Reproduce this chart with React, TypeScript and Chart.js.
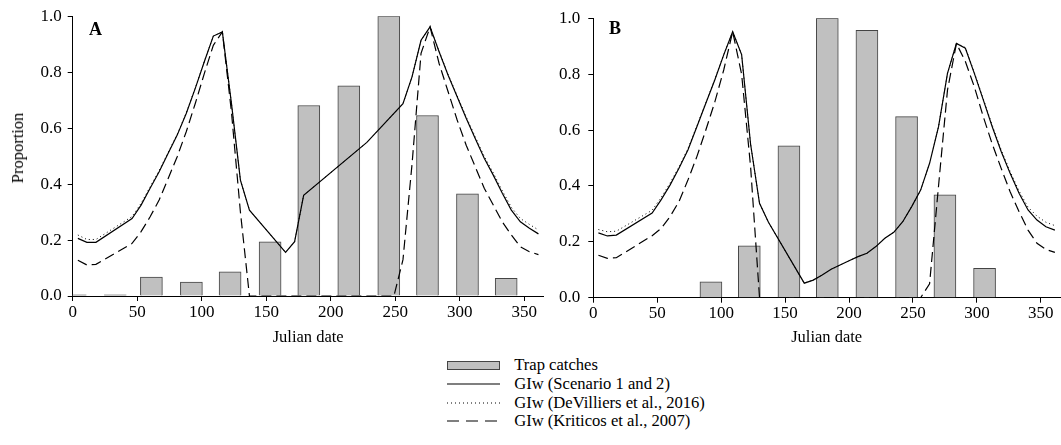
import React, { useEffect, useRef } from 'react';
import { Chart, registerables } from 'chart.js';

Chart.register(...registerables);

// Trap catches: one bar per month, centred on the start of the month (Julian day)
const monthDays = [2, 33, 61, 92, 122, 153, 183, 214, 245, 275, 306, 336];
const trapCatchesA = [0.004, 0.004, 0.068, 0.05, 0.086, 0.194, 0.681, 0.751, 1.0, 0.645, 0.365, 0.063];
const trapCatchesB = [0, 0, 0, 0.057, 0.186, 0.544, 1.0, 0.957, 0.648, 0.368, 0.105, 0];

// Weekly growth index (GIw), panel A
const scenarioDaysA = [4, 11, 18, 46, 53, 60, 67, 74, 81, 88, 95, 102, 109, 116, 123, 130, 137, 165, 172, 179, 228, 256, 263, 270, 277, 284, 291, 298, 305, 312, 319, 326, 333, 340, 347, 354, 361];
const scenarioA = [0.206, 0.192, 0.192, 0.277, 0.325, 0.385, 0.444, 0.51, 0.575, 0.652, 0.742, 0.837, 0.929, 0.944, 0.69, 0.414, 0.307, 0.156, 0.194, 0.36, 0.549, 0.687, 0.783, 0.914, 0.962, 0.873, 0.789, 0.712, 0.635, 0.563, 0.492, 0.432, 0.367, 0.307, 0.265, 0.242, 0.222];
const deVilliersA = [0.218, 0.202, 0.202, 0.284, 0.331, 0.39, 0.448, 0.513, 0.578, 0.654, 0.744, 0.838, 0.929, 0.944, 0.69, 0.414, 0.307, 0.156, 0.194, 0.36, 0.549, 0.687, 0.783, 0.914, 0.962, 0.875, 0.792, 0.716, 0.64, 0.569, 0.499, 0.44, 0.376, 0.317, 0.277, 0.256, 0.236];
const kriticosDaysA = [4, 11, 18, 46, 53, 60, 67, 74, 81, 88, 95, 102, 109, 116, 123, 130, 137, 249, 256, 263, 270, 277, 284, 291, 298, 305, 312, 319, 326, 333, 340, 347, 354, 361];
const kriticosA = [0.128, 0.111, 0.113, 0.188, 0.23, 0.283, 0.343, 0.42, 0.498, 0.587, 0.688, 0.795, 0.896, 0.944, 0.66, 0.3, 0, 0, 0.13, 0.47, 0.867, 0.962, 0.831, 0.73, 0.629, 0.539, 0.462, 0.385, 0.325, 0.265, 0.218, 0.176, 0.158, 0.148];

// Weekly growth index (GIw), panel B
const scenarioDaysB = [4, 11, 18, 46, 53, 60, 67, 74, 81, 88, 95, 102, 109, 116, 123, 130, 137, 165, 172, 179, 186, 193, 200, 207, 214, 221, 228, 235, 242, 249, 256, 263, 270, 277, 284, 291, 298, 305, 312, 319, 326, 333, 340, 347, 354, 361];
const scenarioB = [0.232, 0.221, 0.224, 0.303, 0.35, 0.403, 0.463, 0.529, 0.612, 0.696, 0.779, 0.869, 0.952, 0.87, 0.55, 0.338, 0.27, 0.052, 0.063, 0.081, 0.102, 0.117, 0.132, 0.147, 0.159, 0.183, 0.213, 0.234, 0.272, 0.326, 0.385, 0.481, 0.612, 0.803, 0.91, 0.893, 0.803, 0.708, 0.612, 0.523, 0.445, 0.374, 0.314, 0.278, 0.254, 0.242];
const deVilliersB = [0.244, 0.236, 0.238, 0.313, 0.358, 0.41, 0.468, 0.533, 0.615, 0.698, 0.781, 0.87, 0.952, 0.87, 0.55, 0.338, 0.27, 0.052, 0.063, 0.081, 0.102, 0.117, 0.132, 0.147, 0.159, 0.183, 0.213, 0.234, 0.272, 0.326, 0.385, 0.481, 0.612, 0.803, 0.91, 0.895, 0.806, 0.712, 0.617, 0.529, 0.452, 0.382, 0.324, 0.292, 0.27, 0.258];
const kriticosDaysB = [4, 11, 18, 46, 53, 60, 67, 74, 81, 88, 95, 102, 109, 116, 123, 130, 256, 263, 270, 277, 284, 291, 298, 305, 312, 319, 326, 333, 340, 347, 354, 361];
const kriticosB = [0.152, 0.141, 0.143, 0.222, 0.248, 0.29, 0.344, 0.421, 0.505, 0.6, 0.7, 0.815, 0.952, 0.8, 0.47, 0, 0, 0.05, 0.4, 0.743, 0.91, 0.845, 0.755, 0.648, 0.55, 0.463, 0.379, 0.308, 0.242, 0.195, 0.173, 0.162];

// Axis ticks
const dayTicks = [0, 50, 100, 150, 200, 250, 300, 350];
const proportionTicks = [0, 0.2, 0.4, 0.6, 0.8, 1.0];

const legendItems = [
  'Trap catches',
  'GIw (Scenario 1 and 2)',
  'GIw (DeVilliers et al., 2016)',
  'GIw (Kriticos et al., 2007)',
];

const FONT = "'Liberation Serif', 'Times New Roman', Times, serif";
const BAR_FILL = '#c0c0c0';
const BAR_EDGE = '#444444';

const pairs = (xs: number[], ys: number[]) => xs.map((x, i) => ({ x, y: ys[i] }));

interface PanelSpec {
  catches: number[];
  scenarioDays: number[];
  scenario: number[];
  deVilliers: number[];
  kriticosDays: number[];
  kriticos: number[];
  axisWidth: number;
  axisHeight: number;
  padTop: number;
  padRight: number;
  labelGap: number;
}

function buildConfig(p: PanelSpec): any {
  const tickFont = { family: FONT, size: 17 };
  const titleFont = { family: FONT, size: 16.5 };
  return {
    type: 'bar',
    data: {
      datasets: [
        {
          type: 'line',
          data: pairs(p.scenarioDays, p.deVilliers),
          borderColor: '#000',
          borderWidth: 1,
          borderDash: [1, 3],
          pointRadius: 0,
          tension: 0,
          order: 3,
        },
        {
          type: 'line',
          data: pairs(p.kriticosDays, p.kriticos),
          borderColor: '#000',
          borderWidth: 1.2,
          borderDash: [10, 5],
          pointRadius: 0,
          tension: 0,
          order: 2,
        },
        {
          type: 'line',
          data: pairs(p.scenarioDays, p.scenario),
          borderColor: '#000',
          borderWidth: 1.2,
          pointRadius: 0,
          tension: 0,
          order: 1,
        },
        {
          type: 'bar',
          data: pairs(monthDays, p.catches),
          backgroundColor: BAR_FILL,
          borderColor: BAR_EDGE,
          borderWidth: 1,
          borderSkipped: 'bottom',
          barThickness: 22,
          clip: 0,
          order: 10,
        },
      ],
    },
    options: {
      responsive: false,
      animation: false,
      events: [],
      layout: { padding: { top: p.padTop, right: p.padRight, left: 0, bottom: 0 } },
      plugins: { legend: { display: false }, tooltip: { enabled: false } },
      scales: {
        x: {
          type: 'linear',
          min: 0,
          max: 365,
          offset: false,
          afterFit: (s: any) => { s.height = p.axisHeight; },
          afterBuildTicks: (s: any) => { s.ticks = dayTicks.map((v) => ({ value: v })); },
          border: { display: true, color: '#000', width: 1 },
          grid: { display: true, drawOnChartArea: false, drawTicks: true, tickLength: 5, color: '#000', offset: false },
          ticks: { color: '#000', font: tickFont, padding: 1, autoSkip: false, maxRotation: 0, callback: (v: number) => String(v) },
          title: { display: true, text: 'Julian date', color: '#000', font: titleFont, padding: 0 },
        },
        y: {
          type: 'linear',
          min: 0,
          max: 1,
          afterFit: (s: any) => { s.width = p.axisWidth; },
          afterBuildTicks: (s: any) => { s.ticks = proportionTicks.map((v) => ({ value: v })); },
          border: { display: true, color: '#000', width: 1 },
          grid: { display: true, drawOnChartArea: false, drawTicks: true, tickLength: 5, color: '#000' },
          ticks: { color: '#000', font: tickFont, padding: p.labelGap, callback: (v: number) => v.toFixed(1) },
        },
      },
    },
  };
}

function Panel({ spec, left, width, height }: { spec: PanelSpec; left: number; width: number; height: number }) {
  const ref = useRef<HTMLCanvasElement | null>(null);
  useEffect(() => {
    if (!ref.current) return;
    const chart = new Chart(ref.current, buildConfig(spec));
    return () => chart.destroy();
  }, [spec]);
  return (
    <canvas
      ref={ref}
      width={width}
      height={height}
      style={{ position: 'absolute', left, top: 0, width, height }}
    />
  );
}

const panelA: PanelSpec = {
  catches: trapCatchesA,
  scenarioDays: scenarioDaysA,
  scenario: scenarioA,
  deVilliers: deVilliersA,
  kriticosDays: kriticosDaysA,
  kriticos: kriticosA,
  axisWidth: 72.7,
  axisHeight: 52,
  padTop: 16,
  padRight: 2.4,
  labelGap: 6,
};

const panelB: PanelSpec = {
  catches: trapCatchesB,
  scenarioDays: scenarioDaysB,
  scenario: scenarioB,
  deVilliers: deVilliersB,
  kriticosDays: kriticosDaysB,
  kriticos: kriticosB,
  axisWidth: 47.3,
  axisHeight: 50.3,
  padTop: 18.3,
  padRight: 1,
  labelGap: 8,
};

function LegendSample({ kind }: { kind: number }) {
  if (kind === 0) {
    return (
      <div style={{ width: 51, height: 7, background: BAR_FILL, border: `1px solid ${BAR_EDGE}` }} />
    );
  }
  const dash = kind === 2 ? '1 3' : kind === 3 ? '12 7' : undefined;
  return (
    <svg width={53} height={4} style={{ display: 'block' }}>
      <line x1={0} y1={2} x2={53} y2={2} stroke="#000" strokeWidth={kind === 2 ? 1 : 1.2} strokeDasharray={dash} />
    </svg>
  );
}

export default function App() {
  return (
    <div style={{ position: 'absolute', left: 0, top: 0, width: 1061, height: 445, background: '#fff', fontFamily: FONT, color: '#000', overflow: 'hidden' }}>
      <Panel spec={panelA} left={0} width={546} height={348} />
      <Panel spec={panelB} left={546} width={515} height={348} />
      <div style={{ position: 'absolute', left: 17.5, top: 147.5, transform: 'translate(-50%, -50%) rotate(-90deg)', fontSize: 16.5, whiteSpace: 'nowrap' }}>
        Proportion
      </div>
      <div style={{ position: 'absolute', left: 89, top: 20, fontSize: 18, fontWeight: 'bold', lineHeight: '18px' }}>A</div>
      <div style={{ position: 'absolute', left: 609, top: 18.5, fontSize: 18, fontWeight: 'bold', lineHeight: '18px' }}>B</div>
      {legendItems.map((label, i) => (
        <div key={label} style={{ position: 'absolute', left: 446.7, top: 356 + i * 18.67, height: 18.67, display: 'flex', alignItems: 'center' }}>
          <div style={{ width: 53, display: 'flex', alignItems: 'center' }}>
            <LegendSample kind={i} />
          </div>
          <span style={{ marginLeft: 14.5, fontSize: 16.6, lineHeight: '18px', whiteSpace: 'nowrap' }}>{label}</span>
        </div>
      ))}
    </div>
  );
}
